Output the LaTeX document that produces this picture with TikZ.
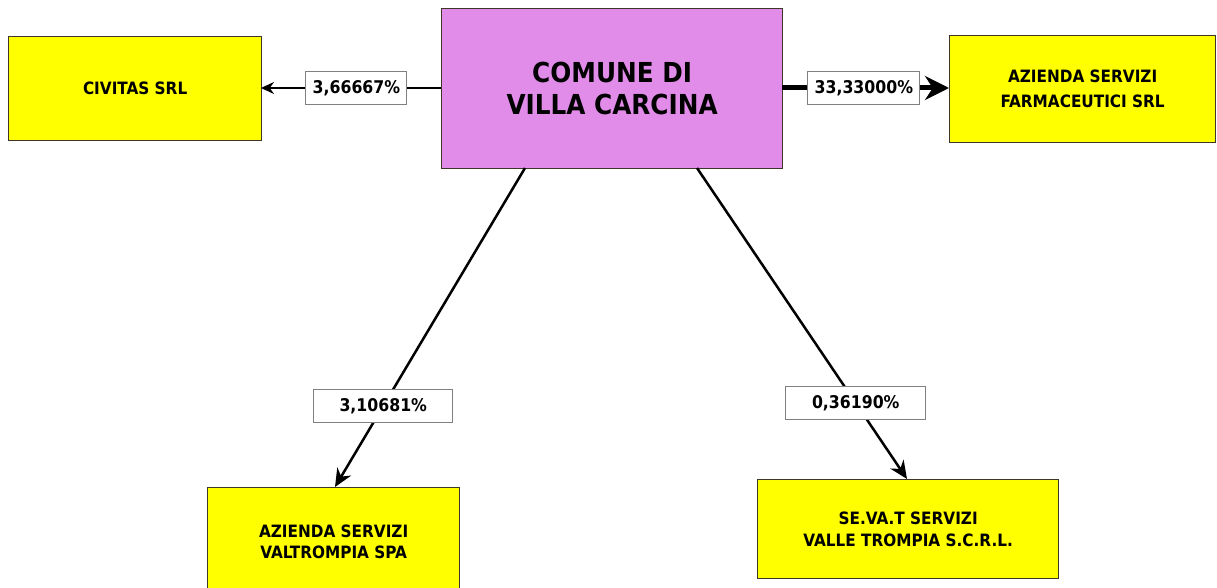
\documentclass[tikz,border=0pt]{standalone}
\usepackage{fontspec}
\newfontfamily\lab{DejaVu Sans Condensed Bold}
\usetikzlibrary{arrows.meta}
\definecolor{boxyellow}{RGB}{255,255,0}
\definecolor{boxpurple}{RGB}{226,140,234}
\definecolor{edgegray}{RGB}{60,55,40}
\tikzset{
  company/.style={draw=edgegray, line width=1.3pt, fill=boxyellow, align=center, font=\lab\fontsize{17}{25}\selectfont, inner sep=0pt, anchor=north west},
  lowcompany/.style={company, font=\lab\fontsize{17}{21.5}\selectfont},
  mainbox/.style={draw=edgegray, line width=1.3pt, fill=boxpurple, align=center, font=\lab\fontsize{27.5}{32}\selectfont, inner sep=0pt, anchor=north west},
  pct/.style={draw=gray, line width=0.9pt, fill=white, font=\lab\fontsize{17.5}{18}\selectfont, inner sep=0pt, minimum height=33pt},
  thinlink/.style={draw=black, line width=1.3pt, -{Stealth[length=13pt,width=12pt]}},
  diaglink/.style={draw=black, line width=2.5pt, -{Stealth[length=18pt,width=16pt]}},
  thicklink/.style={draw=black, line width=5pt, -{Stealth[length=24pt,width=24pt]}}
}
\begin{document}
\begin{tikzpicture}[x=1pt,y=-1pt]
\useasboundingbox (0,0) rectangle (1217,588);
\node[mainbox, minimum width=341pt, minimum height=160pt] (comune) at (441,8) {COMUNE DI\\VILLA CARCINA};
\node[company, minimum width=253pt, minimum height=104pt] (civitas) at (8,36) {CIVITAS SRL};
\node[company, minimum width=266pt, minimum height=107pt] (farm) at (949,35) {AZIENDA SERVIZI\\FARMACEUTICI SRL};
\node[lowcompany, minimum width=252pt, minimum height=108pt] (valt) at (207,487) {AZIENDA SERVIZI\\VALTROMPIA SPA};
\node[lowcompany, minimum width=301pt, minimum height=99pt] (sevat) at (757,479) {SE.VA.T SERVIZI\\VALLE TROMPIA S.C.R.L.};
\coordinate (cL) at (441,88);
\coordinate (cR) at (782,88);
\coordinate (cB1) at (525,168);
\coordinate (cB2) at (697,168);
\coordinate (tCiv) at (261,88);
\coordinate (tFarm) at (949,88);
\coordinate (tValt) at (335,487);
\coordinate (tSev) at (907,479);
\draw[thinlink] (cL) -- node[pct, pos=0.47, minimum width=101pt] (l1) {3,66667\%} (tCiv);
\draw[thicklink] (cR) -- node[pct, pos=0.49, minimum width=112pt] (l2) {33,33000\%} (tFarm);
\draw[diaglink] (cB1) -- node[pct, pos=0.746, minimum width=139pt] (l3) {3,10681\%} (tValt);
\draw[diaglink] (cB2) -- node[pct, pos=0.756, minimum width=140pt] (l4) {0,36190\%} (tSev);
\end{tikzpicture}
\end{document}
